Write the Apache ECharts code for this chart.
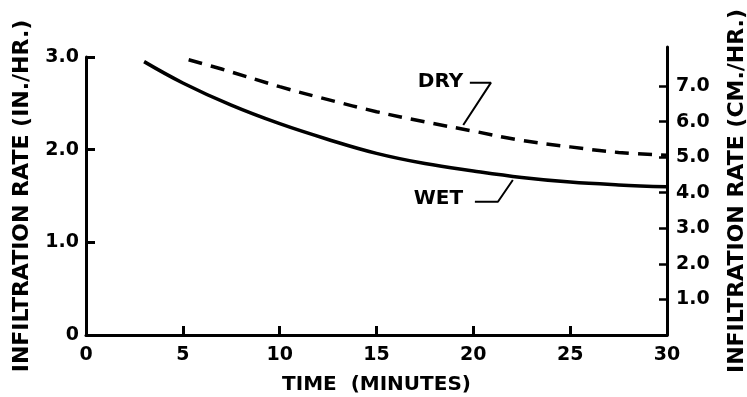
<!DOCTYPE html>
<html><head><meta charset="utf-8">
<script src="https://cdn.jsdelivr.net/npm/echarts@6/dist/echarts.min.js"></script>
<style>html,body{margin:0;padding:0;background:#fff}#c{width:747px;height:397px}</style>
</head><body><div id="c"></div>
<script>
// Data (time in minutes, infiltration rate in in./hr.)
const wetTime  = [3, 5, 7.5, 10, 12.5, 15, 17.5, 20, 22.5, 25, 27.5, 30];
const wetRate  = [2.95, 2.72, 2.48, 2.28, 2.11, 1.96, 1.85, 1.77, 1.70, 1.65, 1.62, 1.60];
const dryTime  = [5.3, 7, 10, 12.5, 15, 17.5, 20, 22.5, 25, 27.5, 30];
const dryRate  = [2.97, 2.87, 2.68, 2.54, 2.41, 2.30, 2.20, 2.10, 2.03, 1.97, 1.94];
const xTicks   = [0, 5, 10, 15, 20, 25, 30];
const leftTicks = [0, 1, 2, 3];
const rightTicks = [1, 2, 3, 4, 5, 6, 7];
// annotation labels and leader lines (data coordinates)
const dryLabel = {name: 'DRY', t: 18.33, v: 2.725};
const dryLeader = [[19.82, 2.723], [20.91, 2.723], [19.48, 2.266]];
const wetLabel = {name: 'WET', t: 18.22, v: 1.462};
const wetLeader = [[20.08, 1.438], [21.27, 1.438], [22.04, 1.673]];

const zip = (a, b) => a.map((x, i) => [x, b[i]]);
const font = {fontFamily: 'DejaVu Sans', fontWeight: 'bold', fontSize: 19, color: '#000'};
const f = (o) => Object.assign({}, font, o);
const gridBase = {left: 86, right: 80, bottom: 62, containLabel: false, outerBoundsMode: 'none'};
const chart = echarts.init(document.getElementById('c'), null, {renderer: 'canvas'});
chart.setOption({
  animation: false,
  backgroundColor: '#fff',
  grid: [
    Object.assign({top: 57}, gridBase),
    Object.assign({top: 47}, gridBase),
    Object.assign({top: 86}, gridBase)
  ],
  xAxis: [
    {type: 'value', gridIndex: 0, min: 0, max: 30, interval: 5,
     name: 'TIME  (MINUTES)', nameLocation: 'middle', nameGap: 40,
     nameTextStyle: f({fontSize: 20}),
     axisLine: {onZero: false, lineStyle: {color: '#000', width: 3}},
     axisTick: {show: true, inside: false, length: -9, lineStyle: {color: '#000', width: 3}},
     axisLabel: f({margin: 11, formatter: v => xTicks.includes(v) ? String(v) : ''}),
     splitLine: {show: false}},
    {type: 'value', gridIndex: 1, min: 0, max: 30, show: false, axisLine: {onZero: false}},
    {type: 'value', gridIndex: 2, min: 0, max: 30, show: false, axisLine: {onZero: false}}
  ],
  yAxis: [
    {type: 'value', gridIndex: 0, min: 0, max: 3, interval: 1, position: 'left',
     name: 'INFILTRATION RATE (IN./HR.)', nameLocation: 'middle', nameGap: 53, nameRotate: 90,
     nameTextStyle: f({fontSize: 22}),
     axisLine: {show: true, onZero: false, lineStyle: {color: '#000', width: 3}},
     axisTick: {show: true, inside: false, length: -9, lineStyle: {color: '#000', width: 3}},
     axisLabel: f({margin: 7, formatter: v => leftTicks.includes(v) ? (v === 0 ? '0' : v.toFixed(1)) : ''}),
     splitLine: {show: false}},
    {type: 'value', gridIndex: 1, min: 0, max: 8.1, position: 'right',
     name: 'INFILTRATION RATE (CM./HR.)', nameLocation: 'middle', nameGap: 59, nameRotate: 90,
     nameTextStyle: f({fontSize: 22}),
     axisLine: {show: true, onZero: false, lineStyle: {color: '#000', width: 3}},
     axisTick: {show: false}, axisLabel: {show: false},
     splitLine: {show: false}},
    {type: 'value', gridIndex: 2, min: 0, max: 7, interval: 1, position: 'right',
     axisLine: {show: false, onZero: false},
     axisTick: {show: true, inside: false, length: -8, lineStyle: {color: '#000', width: 2.5}},
     axisLabel: f({margin: 9, formatter: v => rightTicks.includes(v) ? v.toFixed(1) : ''}),
     splitLine: {show: false}}
  ],
  series: [
    {type: 'line', xAxisIndex: 0, yAxisIndex: 0, data: zip(wetTime, wetRate), smooth: 0.4,
     symbol: 'none', lineStyle: {color: '#000', width: 3.5}},
    {type: 'line', xAxisIndex: 0, yAxisIndex: 0, data: zip(dryTime, dryRate), smooth: 0.4,
     symbol: 'none', lineStyle: {color: '#000', width: 3.5, type: [14, 9]}},
    {type: 'line', xAxisIndex: 0, yAxisIndex: 0, data: dryLeader, symbol: 'none',
     lineStyle: {color: '#000', width: 2}},
    {type: 'line', xAxisIndex: 0, yAxisIndex: 0, data: wetLeader, symbol: 'none',
     lineStyle: {color: '#000', width: 2}},
    {type: 'scatter', xAxisIndex: 0, yAxisIndex: 0, symbol: 'circle', symbolSize: 1,
     itemStyle: {opacity: 0},
     data: [[dryLabel.t, dryLabel.v, dryLabel.name], [wetLabel.t, wetLabel.v, wetLabel.name]],
     label: f({show: true, position: [0, 0], align: 'center', verticalAlign: 'middle', fontSize: 20,
       opacity: 1, formatter: p => p.value[2]})}
  ]
});
</script></body></html>
